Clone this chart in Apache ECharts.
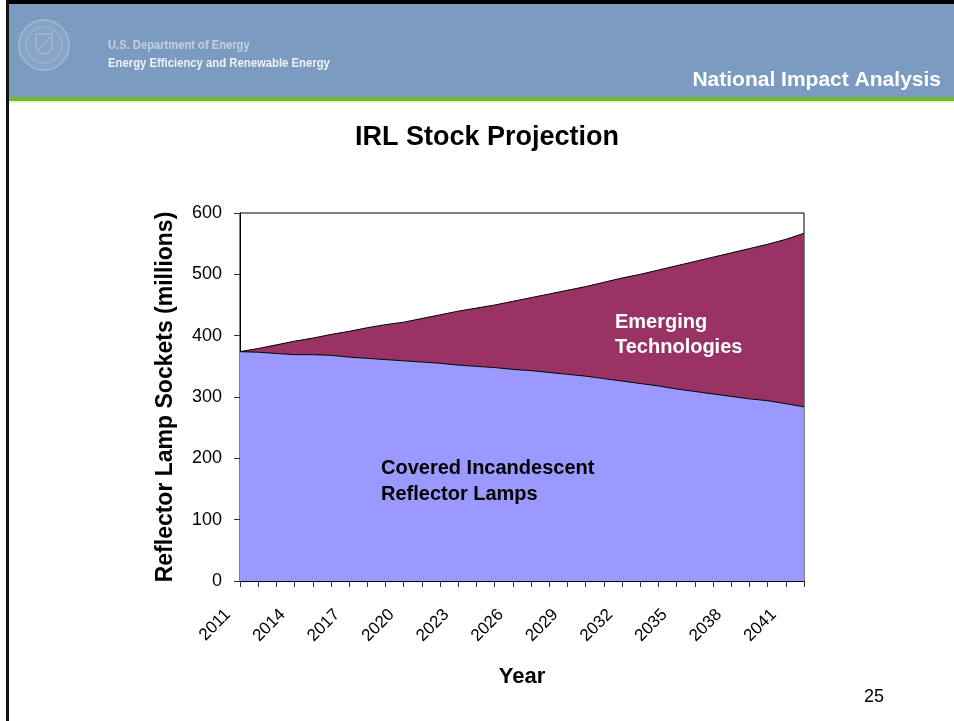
<!DOCTYPE html>
<html>
<head>
<meta charset="utf-8">
<title>IRL Stock Projection</title>
<script src="https://cdn.jsdelivr.net/npm/echarts@6/dist/echarts.min.js"></script>
<style>
  html, body { margin: 0; padding: 0; background: #fff; }
  #chart { width: 954px; height: 721px; }
</style>
</head>
<body>
<div id="chart"></div>
<script>
'use strict';

// 年份
var years = ['2011', '2012', '2013', '2014', '2015', '2016', '2017', '2018', '2019', '2020',
    '2021', '2022', '2023', '2024', '2025', '2026', '2027', '2028', '2029', '2030',
    '2031', '2032', '2033', '2034', '2035', '2036', '2037', '2038', '2039', '2040',
    '2041', '2042'];

// Covered Incandescent Reflector Lamps (millions)
var coveredLamps = [374, 373, 371, 369, 369, 368, 365, 363, 361, 359,
    357, 355, 352, 350, 348, 345, 343, 340, 337, 334,
    330, 326, 322, 318, 313, 309, 305, 301, 297, 294,
    289, 284];

// 总量 (stock total), emerging = total - covered
var totalStock = [374, 379, 385, 391, 396, 402, 407, 413, 418, 422,
    428, 434, 440, 445, 450, 456, 462, 468, 474, 480,
    487, 494, 500, 507, 514, 521, 528, 535, 542, 549,
    557, 567];

var emergingTech = totalStock.map(function (v, i) { return v - coveredLamps[i]; });

var yTicks = [0, 600, 100];

var chart = echarts.init(document.getElementById('chart'));

var option = {
    backgroundColor: '#fff',
    animation: false,
    textStyle: { fontFamily: 'Liberation Sans, Arial, sans-serif' },
    graphic: [
        // slide frame
        { type: 'rect', shape: { x: 6, y: 0, width: 948, height: 4 }, style: { fill: '#000' } },
        { type: 'rect', shape: { x: 6, y: 0, width: 3, height: 721 }, style: { fill: '#111' } },
        // header
        { type: 'rect', shape: { x: 9, y: 4, width: 945, height: 93 }, style: { fill: '#7b9cc0' } },
        { type: 'rect', shape: { x: 9, y: 97, width: 945, height: 4 }, style: { fill: '#74b82e' } },
        { type: 'rect', shape: { x: 9, y: 101, width: 945, height: 2 }, style: { fill: '#e4f3cf' } },
        // seal
        { type: 'circle', shape: { cx: 44, cy: 45, r: 25 }, style: { fill: '#86a4c6', stroke: '#a3bad4', lineWidth: 1.5 } },
        { type: 'circle', shape: { cx: 44, cy: 45, r: 18 }, style: { fill: 'none', stroke: '#a3bad4', lineWidth: 1 } },
        { type: 'rect', shape: { x: 36, y: 34, width: 16, height: 20, r: [0, 0, 8, 8] }, style: { fill: 'none', stroke: '#b0c4db', lineWidth: 1 } },
        { type: 'line', shape: { x1: 38, y1: 50, x2: 50, y2: 37 }, style: { stroke: '#b0c4db', lineWidth: 1 } },
        { type: 'text', x: 108, y: 39, scaleX: 0.86, style: { text: 'U.S. Department of Energy', fill: '#c3d1e2', font: 'bold 13px "Liberation Sans", Arial' } },
        { type: 'text', x: 108, y: 57, scaleX: 0.87, style: { text: 'Energy Efficiency and Renewable Energy', fill: '#eef2f7', font: 'bold 13px "Liberation Sans", Arial' } },
        { type: 'text', right: 13, top: 70, style: { text: 'National Impact Analysis', fill: '#fff', font: 'bold 21px "Liberation Sans", Arial', textAlign: 'right' } },
        // chart labels
        { type: 'text', left: 381, top: 455, z: 10, style: { text: 'Covered Incandescent\nReflector Lamps', fill: '#000', font: 'bold 20px "Liberation Sans", Arial', lineHeight: 26 } },
        { type: 'text', left: 615, top: 310, z: 10, style: { text: 'Emerging\nTechnologies', fill: '#fff', font: 'bold 20px "Liberation Sans", Arial', lineHeight: 25 } },
        // page number
        { type: 'text', left: 864, top: 688, style: { text: '25', fill: '#000', font: '18px "Liberation Sans", Arial' } }
    ],
    title: {
        text: 'IRL Stock Projection',
        left: 350,
        top: 119,
        textStyle: { fontSize: 27, fontWeight: 'bold', color: '#000', fontFamily: 'Liberation Sans, Arial' }
    },
    grid: {
        left: 240,
        right: 150,
        top: 213,
        bottom: 140,
        show: true,
        borderColor: '#000',
        borderWidth: 1,
        backgroundColor: '#fff'
    },
    xAxis: {
        type: 'category',
        data: years,
        boundaryGap: false,
        name: 'Year',
        nameLocation: 'middle',
        nameGap: 85,
        nameTextStyle: { fontSize: 22, fontWeight: 'bold', color: '#000' },
        axisLine: { lineStyle: { color: '#000', width: 1 } },
        axisTick: { show: true, interval: 0, length: 6, lineStyle: { color: '#333' } },
        axisLabel: { interval: 2, rotate: 45, fontSize: 17, color: '#000', margin: 19, padding: [0, 17, 0, 0] },
        splitLine: { show: false }
    },
    yAxis: {
        type: 'value',
        min: yTicks[0],
        max: yTicks[1],
        interval: yTicks[2],
        name: 'Reflector Lamp Sockets (millions)',
        nameLocation: 'middle',
        nameGap: 63,
        nameTextStyle: { fontSize: 23, fontWeight: 'bold', color: '#000' },
        axisLine: { show: true, lineStyle: { color: '#000', width: 1 } },
        axisTick: { show: true, length: 6, lineStyle: { color: '#333' } },
        axisLabel: { fontSize: 18, color: '#000', margin: 18 },
        splitLine: { show: false }
    },
    series: [{
        name: 'Covered Incandescent Reflector Lamps',
        type: 'line',
        stack: 'stock',
        data: coveredLamps,
        symbol: 'none',
        lineStyle: { color: '#000', width: 1 },
        areaStyle: { color: '#9999ff', opacity: 1 }
    }, {
        name: 'Emerging Technologies',
        type: 'line',
        stack: 'stock',
        data: emergingTech,
        symbol: 'none',
        lineStyle: { color: '#000', width: 1 },
        areaStyle: { color: '#993366', opacity: 1 }
    }]
};

chart.setOption(option);
</script>
</body>
</html>
